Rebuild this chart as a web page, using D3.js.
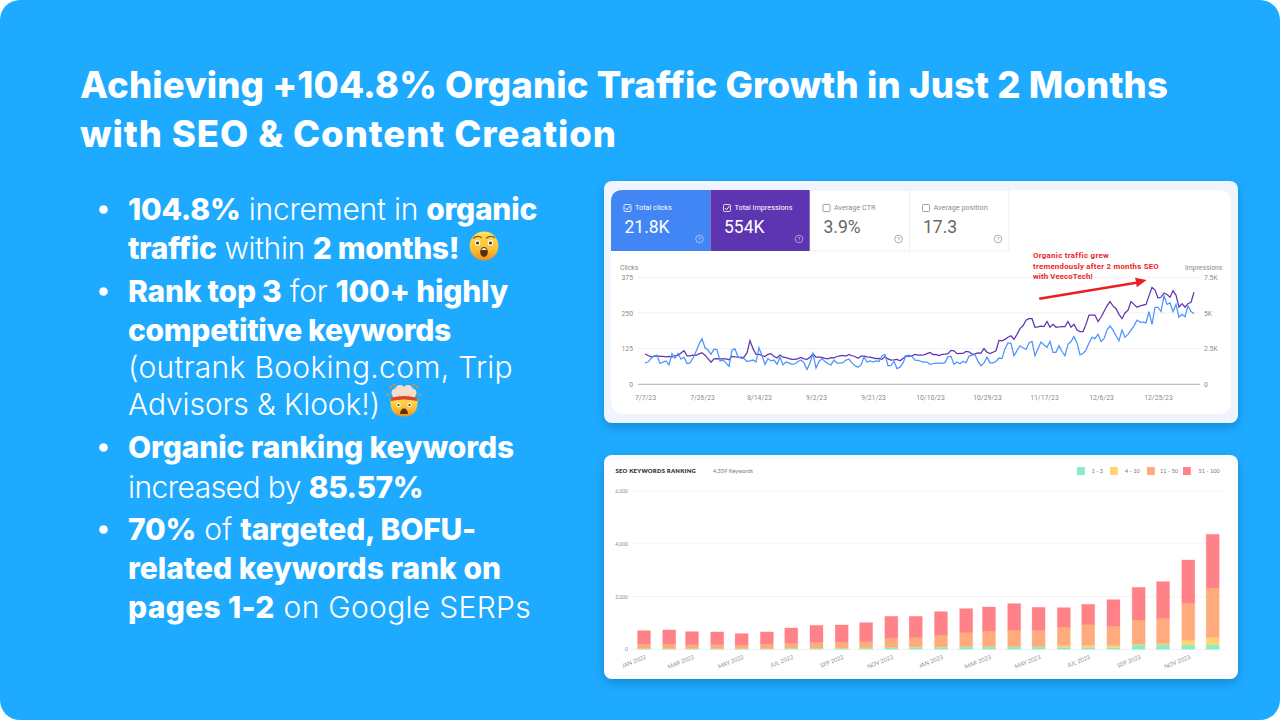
<!DOCTYPE html>
<html>
<head>
<meta charset="utf-8">
<script src="https://cdn.jsdelivr.net/npm/d3@7"></script>
<style>
html, body { margin: 0; padding: 0; background: #fff; }
svg { display: block; }
text { font-family: Roboto, sans-serif; }
.head, .bullet { font-family: Inter, sans-serif; fill: #fff; }
.head { font-size: 36.5px; font-weight: 800; }
.bullet { font-size: 30px; font-weight: 300; white-space: pre; }
.bullet .b { font-weight: 800; }
.kw { font-family: Lato, sans-serif; }
</style>
</head>
<body>
<div class="container"></div>
<script>
const WIDTH = 1280;
const HEIGHT = 720;

const TITLE_LINES = [
    'Achieving +104.8% Organic Traffic Growth in Just 2 Months',
    'with SEO & Content Creation'
];
const TITLE_RIGHT = [1168, 617];

// [text, bold] runs per line, dot marks first line of a bullet
const BULLETS = [
    { dot: true, runs: [['104.8%', 1], [' increment in ', 0], ['organic', 1]] },
    { runs: [['traffic', 1], [' within ', 0], ['2 months!', 1]] },
    { dot: true, runs: [['Rank top 3', 1], [' for ', 0], ['100+ highly', 1]] },
    { runs: [['competitive keywords', 1]] },
    { runs: [['(outrank Booking.com, Trip', 0]] },
    { runs: [['Advisors & Klook!)', 0]] },
    { dot: true, runs: [['Organic ranking keywords', 1]] },
    { runs: [['increased by ', 0], ['85.57%', 1]] },
    { dot: true, runs: [['70%', 1], [' of ', 0], ['targeted, BOFU-', 1]] },
    { runs: [['related keywords rank on', 1]] },
    { runs: [['pages 1-2', 1], [' on Google SERPs', 0]] }
];
const BULLET_BASE = [220, 259, 302, 341, 378, 415, 458, 497.5, 540, 579, 618];
const BULLET_RIGHT = [537, 459, 508, 451, 513, 380, 514, 423, 476, 501, 531];

const START_DATE = new Date(2023, 6, 7);
const DATE_TICKS = ['7/7/23', '7/26/23', '8/14/23', '9/2/23', '9/21/23', '10/10/23', '10/29/23', '11/17/23', '12/6/23', '12/25/23'];

const CLICKS = [
    75, 78, 90, 100, 102, 73, 78, 82, 68, 108, 92, 108, 88, 95, 73, 75, 92, 115, 140, 160,
    128, 120, 105, 123, 122, 82, 85, 75, 63, 120, 124, 97, 92, 90, 80, 82, 85, 78, 128, 100,
    70, 90, 82, 85, 70, 95, 68, 78, 75, 70, 72, 80, 85, 75, 52, 75, 108, 57, 80, 90,
    80, 72, 68, 85, 74, 74, 76, 85, 88, 75, 65, 60, 68, 95, 78, 82, 78, 82, 80, 100,
    104, 65, 66, 80, 55, 60, 75, 100, 102, 98, 85, 84, 80, 78, 78, 70, 72, 74, 74, 73,
    76, 97, 98, 70, 78, 72, 80, 76, 98, 102, 104, 80, 65, 75, 95, 75, 75, 80, 92, 90,
    125, 145, 144, 100, 118, 135, 128, 122, 145, 150, 100, 125, 148, 138, 130, 150, 112, 112, 135, 115,
    100, 140, 150, 167, 145, 103, 108, 120, 145, 165, 160, 175, 150, 160, 190, 205, 190, 170, 153, 190,
    165, 175, 190, 205, 225, 218, 218, 215, 255, 210, 270, 270, 255, 310, 280, 285, 255, 280, 235, 245,
    237, 275, 255, 248
];

const IMPRESSIONS = [
    2120, 2020, 1930, 1950, 2000, 1960, 1950, 1930, 1950, 1900, 2000, 2030, 2200, 2350, 2000, 2000, 2040, 2020, 2130, 2220,
    2040, 1800, 1550, 1780, 1800, 1780, 1790, 1780, 1720, 1950, 1920, 1900, 1890, 1910, 2200, 3060, 2500, 2100, 2100, 2020,
    1950, 2100, 2150, 1950, 1850, 2050, 1900, 1870, 1800, 1750, 1750, 1800, 1880, 1780, 1750, 1900, 2130, 1900, 1900, 1880,
    1820, 1780, 1870, 1860, 1950, 2000, 2020, 1980, 2100, 2000, 1950, 1820, 1980, 1980, 1930, 1900, 1850, 1800, 1820, 1750,
    1950, 1780, 1700, 1720, 1750, 1650, 1800, 2000, 1950, 2000, 2100, 2050, 2040, 2070, 2150, 2230, 2080, 2100, 2020, 2100,
    2120, 2150, 2380, 2350, 2150, 2170, 2160, 2300, 2280, 2120, 2130, 2200, 2190, 2500, 2250, 2150, 2250, 2350, 3080, 3050,
    3150, 3300, 3400, 3150, 3500, 3900, 4100, 4500, 4600, 4600, 4000, 4020, 4080, 4050, 4400, 4000, 4200, 4000, 4020, 4050,
    4050, 4400, 4000, 4200, 3800, 3700, 3700, 4200, 4850, 4850, 4850, 4400, 4700, 5100, 5500, 5800, 5500, 5300, 4900, 4600,
    5000, 5200, 5800, 5600, 5400, 5500, 5550, 5600, 6200, 6800, 6600, 6050, 6100, 6400, 6300, 6100, 6550, 6250, 5400, 5650,
    5400, 5650, 5750, 6450
];

const CLICK_TICKS = [0, 125, 250, 375];
const IMPRESSION_TICKS = [0, 2500, 5000, 7500];
const IMPRESSION_LABELS = ['0', '2.5K', '5K', '7.5K'];

const METRIC_LABELS = ['Total clicks', 'Total impressions', 'Average CTR', 'Average position'];
const METRIC_VALUES = ['21.8K', '554K', '3.9%', '17.3'];

const NOTE_LINES = ['Organic traffic grew', 'tremendously after 2 months SEO', 'with VeecoTech!'];
const NOTE_WIDTHS = [75.7, 126, 59.7];

const MONTHS = d3.range(24).map(i => new Date(2022, i, 1));
const MONTH_LABELS = ['JAN 2022', 'MAR 2022', 'MAY 2022', 'JUL 2022', 'SEP 2022', 'NOV 2022', 'JAN 2023', 'MAR 2023', 'MAY 2023', 'JUL 2023', 'SEP 2023', 'NOV 2023'];
const BANDS = ['1 - 3', '4 - 10', '11 - 50', '51 - 100'];
const BAND_1_3 = [25, 25, 25, 25, 25, 25, 40, 40, 40, 45, 60, 75, 75, 88, 88, 88, 88, 75, 63, 63, 177, 177, 164, 177];
const BAND_4_10 = [8, 8, 8, 8, 8, 8, 10, 10, 12, 12, 15, 15, 15, 15, 15, 15, 15, 64, 87, 76, 23, 38, 177, 265];
const BAND_11_50 = [169, 169, 144, 144, 131, 169, 190, 215, 226, 233, 355, 352, 453, 527, 592, 629, 617, 707, 784, 732, 911, 947, 1414, 1882];
const BAND_51_100 = [505, 531, 493, 480, 430, 455, 568, 644, 644, 720, 820, 808, 884, 910, 909, 998, 871, 732, 771, 1010, 1238, 1402, 1630, 2035];
const BAND_COLORS = ['#8aedc6', '#ffd46f', '#ffab7d', '#ff8288'];
const KEYWORD_TICKS = [0, 2000, 4000, 6000];
const LEGEND_X = [1077, 1110, 1147, 1183];
const LEGEND_TEXT_X = [1091.5, 1125, 1160, 1198.5];

// stretch or squeeze a text line to a wanted width through its letter spacing
const fitWidth = function (node, width) {
    let chars = node.textContent.length;
    let extra = (width - node.getComputedTextLength()) / chars;
    d3.select(node).style('letter-spacing', `${extra}px`);
};

const svg = d3.select('.container').append('svg')
    .attr('width', WIDTH)
    .attr('height', HEIGHT);

const defs = svg.append('defs');
const shadow = defs.append('filter').attr('id', 'cardShadow')
    .attr('x', '-5%').attr('y', '-5%').attr('width', '110%').attr('height', '115%');
shadow.append('feDropShadow')
    .attr('dx', 0).attr('dy', 4).attr('stdDeviation', 5)
    .attr('flood-color', '#0b5d94').attr('flood-opacity', 0.4);

const faceGrad = defs.append('linearGradient').attr('id', 'faceGrad')
    .attr('x1', 0).attr('y1', 0).attr('x2', 0).attr('y2', 1);
faceGrad.append('stop').attr('offset', '0%').attr('stop-color', '#ffe25c');
faceGrad.append('stop').attr('offset', '65%').attr('stop-color', '#fcbc30');
faceGrad.append('stop').attr('offset', '100%').attr('stop-color', '#ee8f1c');

svg.append('rect').attr('width', WIDTH).attr('height', HEIGHT).attr('rx', 20).attr('fill', '#1eaaff');

// -- headline and bullets --
svg.selectAll('.head').data(TITLE_LINES)
    .enter().append('text')
    .classed('head', true)
    .attr('x', 80)
    .attr('y', (d, i) => 98 + i * 49)
    .text(d => d)
    .each(function (d, i) { fitWidth(this, TITLE_RIGHT[i] - 80); });

const bullets = svg.selectAll('.bullet').data(BULLETS)
    .enter().append('text')
    .classed('bullet', true)
    .attr('x', 128)
    .attr('y', (d, i) => BULLET_BASE[i]);

bullets.selectAll('tspan').data(d => d.runs)
    .enter().append('tspan')
    .classed('b', d => d[1] === 1)
    .text(d => d[0]);

bullets.each(function (d, i) { fitWidth(this, BULLET_RIGHT[i] - 128); });

svg.selectAll('.dot').data(BULLETS.map((d, i) => ({ d, i })).filter(o => o.d.dot))
    .enter().append('circle')
    .attr('cx', 103.5)
    .attr('cy', o => BULLET_BASE[o.i] - 10.5)
    .attr('r', 4.3)
    .attr('fill', '#fff');

// -- emoji drawn as shapes, no colour emoji font here --
const astonished = svg.append('g').attr('transform', 'translate(484, 246)');
astonished.append('circle').attr('r', 14.4).attr('fill', 'url(#faceGrad)');
[-6.5, 6.5].forEach(dx => {
    astonished.append('ellipse').attr('cx', dx).attr('cy', -3).attr('rx', 2.7).attr('ry', 3).attr('fill', '#fff7e0');
    astonished.append('circle').attr('cx', dx).attr('cy', -3).attr('r', 1.5).attr('fill', '#4f3010');
    astonished.append('path').attr('d', `M${dx - 4.5},-7.5 Q${dx},-11.5 ${dx + 4.5},-8`)
        .attr('fill', 'none').attr('stroke', '#8a5514').attr('stroke-width', 1.2);
});
astonished.append('ellipse').attr('cy', 6).attr('rx', 3.8).attr('ry', 5).attr('fill', '#5b3012');
astonished.append('path').attr('d', 'M-2.8,3.4 Q0,0.4 2.8,3.4 Q0,4.6 -2.8,3.4 Z').attr('fill', '#fff');

const mindBlown = svg.append('g').attr('transform', 'translate(404, 403)');
[[-8, -10, 4.5], [8, -10, 4.5], [-4, -13, 5], [4, -13, 5], [0, -9, 5]].forEach(c => {
    mindBlown.append('circle').attr('cx', c[0]).attr('cy', c[1]).attr('r', c[2]).attr('fill', '#f5dfcb');
});
[[-13, -16], [13, -16], [-16, -8], [16, -8], [-10, -18], [10, -18]].forEach(c => {
    mindBlown.append('circle').attr('cx', c[0]).attr('cy', c[1]).attr('r', 1.2).attr('fill', '#f08a24');
});
mindBlown.append('path').attr('d', 'M-13.5,-5 Q-15,13.5 0,13.5 Q15,13.5 13.5,-5 Q0,-8 -13.5,-5 Z')
    .attr('fill', 'url(#faceGrad)');
mindBlown.append('path').attr('d', 'M-13.5,-5 Q0,-9 13.5,-5 L13,-2 Q0,-5 -13,-2 Z').attr('fill', '#d6472c');
[-5.5, 5.5].forEach(dx => {
    mindBlown.append('circle').attr('cx', dx).attr('cy', 2).attr('r', 2.2).attr('fill', '#fff7e0');
    mindBlown.append('circle').attr('cx', dx).attr('cy', 2).attr('r', 1.1).attr('fill', '#4a2a10');
});
mindBlown.append('path').attr('d', 'M-4,11 Q-3.5,5.5 0,5.5 Q3.5,5.5 4,11 Z').attr('fill', '#5b3012');

// -- search console card --
svg.append('rect')
    .attr('x', 604).attr('y', 181).attr('width', 634).attr('height', 242).attr('rx', 8)
    .attr('fill', '#f0f4fd')
    .attr('filter', 'url(#cardShadow)');
svg.append('rect')
    .attr('x', 611).attr('y', 190).attr('width', 620).attr('height', 224).attr('rx', 12)
    .attr('fill', '#fff');

const TILE_X = d3.scaleLinear().domain([0, 4]).range([611, 1009]);
const TILE_FILLS = ['#4285f4', '#5e35b1', '#fff', '#fff'];
const tiles = svg.selectAll('.tile').data(METRIC_LABELS)
    .enter().append('g')
    .classed('tile', true)
    .attr('transform', (d, i) => `translate(${TILE_X(i)}, 190)`);
tiles.append('path')
    .attr('d', (d, i) => i === 0
        ? 'M0,61 V12 Q0,0 12,0 H99.5 V61 Z'
        : 'M0,0 H99.5 V61 H0 Z')
    .attr('fill', (d, i) => TILE_FILLS[i])
    .attr('stroke', (d, i) => i > 1 ? '#e8eaed' : 'none')
    .attr('stroke-width', 0.7);
tiles.append('rect')
    .attr('x', 13).attr('y', 14.5).attr('width', 7).attr('height', 7).attr('rx', 1)
    .attr('fill', 'none')
    .attr('stroke', (d, i) => i < 2 ? '#fff' : '#8a8a8a')
    .attr('stroke-width', 0.8);
tiles.filter((d, i) => i < 2).append('path')
    .attr('d', 'M14.5,18 L16,19.8 L19.2,15.8')
    .attr('fill', 'none').attr('stroke', '#fff').attr('stroke-width', 0.9);
tiles.append('text')
    .attr('x', 24).attr('y', 20)
    .attr('font-size', 7.3)
    .attr('fill', (d, i) => i < 2 ? '#fff' : '#8c8c8c')
    .text(d => d);
tiles.append('text')
    .attr('x', 13.5).attr('y', 43)
    .attr('font-size', 17.5)
    .attr('fill', (d, i) => i < 2 ? '#fff' : '#666')
    .text((d, i) => METRIC_VALUES[i]);
const helpIcon = tiles.append('g')
    .attr('transform', 'translate(88.5, 49)')
    .attr('opacity', (d, i) => i < 2 ? 0.7 : 1);
helpIcon.append('circle').attr('r', 3.8).attr('fill', 'none')
    .attr('stroke', (d, i) => i < 2 ? '#fff' : '#8a8a8a').attr('stroke-width', 0.7);
helpIcon.append('text').attr('text-anchor', 'middle').attr('y', 2).attr('font-size', 5.5)
    .attr('fill', (d, i) => i < 2 ? '#fff' : '#8a8a8a').text('?');

const xDay = d3.scaleTime()
    .domain([START_DATE, d3.timeDay.offset(START_DATE, CLICKS.length - 1)])
    .range([645, 1194]);
const yClicks = d3.scaleLinear().domain([0, 375]).range([384.3, 277.3]);
const yImpr = d3.scaleLinear().domain([0, 7500]).range([384.3, 277.3]);

svg.append('g').selectAll('line').data(CLICK_TICKS)
    .enter().append('line')
    .attr('x1', 638).attr('x2', 1200)
    .attr('y1', d => yClicks(d)).attr('y2', d => yClicks(d))
    .attr('stroke', d => d === 0 ? '#9a9a9a' : '#eef0f2')
    .attr('stroke-width', d => d === 0 ? 0.8 : 1);

const axisStyle = sel => sel.selectAll('text').attr('font-size', 6.8).attr('fill', '#8a8a8a').attr('font-family', 'Roboto, sans-serif');

const leftAxis = d3.axisLeft(yClicks).tickValues(CLICK_TICKS).tickSize(0).tickPadding(3);
svg.append('g').attr('transform', 'translate(636, 0)').call(leftAxis)
    .call(g => g.select('.domain').remove())
    .call(axisStyle);

const rightAxis = d3.axisRight(yImpr).tickValues(IMPRESSION_TICKS)
    .tickFormat((d, i) => IMPRESSION_LABELS[i]).tickSize(0).tickPadding(3);
svg.append('g').attr('transform', 'translate(1201, 0)').call(rightAxis)
    .call(g => g.select('.domain').remove())
    .call(axisStyle);

const bottomAxis = d3.axisBottom(xDay)
    .tickValues(DATE_TICKS.map((d, i) => d3.timeDay.offset(START_DATE, i * 19)))
    .tickFormat((d, i) => DATE_TICKS[i]).tickSize(0).tickPadding(5);
svg.append('g').attr('transform', 'translate(0, 390)').call(bottomAxis)
    .call(g => g.select('.domain').remove())
    .call(axisStyle);

svg.append('text').attr('x', 620).attr('y', 270).attr('font-size', 6.8).attr('fill', '#8a8a8a').text('Clicks');
svg.append('text').attr('x', 1185).attr('y', 270).attr('font-size', 6.8).attr('fill', '#8a8a8a').text('Impressions');

const clickLine = d3.line().x((d, i) => xDay(d3.timeDay.offset(START_DATE, i))).y(d => yClicks(d));
const imprLine = d3.line().x((d, i) => xDay(d3.timeDay.offset(START_DATE, i))).y(d => yImpr(d));

svg.append('path').attr('d', imprLine(IMPRESSIONS))
    .attr('fill', 'none').attr('stroke', '#5e35b1').attr('stroke-width', 1.25);
svg.append('path').attr('d', clickLine(CLICKS))
    .attr('fill', 'none').attr('stroke', '#4c94fb').attr('stroke-width', 1.25);

// annotation
svg.selectAll('.note').data(NOTE_LINES)
    .enter().append('text')
    .classed('note', true)
    .attr('x', 1033)
    .attr('y', (d, i) => 258.3 + i * 10.5)
    .attr('font-weight', 700)
    .attr('font-size', 7.8)
    .attr('fill', '#ee1c25')
    .text(d => d)
    .each(function (d, i) { fitWidth(this, NOTE_WIDTHS[i]); });
svg.append('path')
    .attr('d', 'M1039,297.5 L1136,281.5 L1135,277.7 L1146.7,280 L1136.7,287.3 L1136.3,284 L1039.5,300 Z')
    .attr('fill', '#ee1c25');

// -- keywords card --
svg.append('rect')
    .attr('x', 604).attr('y', 455).attr('width', 634).attr('height', 224).attr('rx', 8)
    .attr('fill', '#fff')
    .attr('filter', 'url(#cardShadow)');
svg.append('rect')
    .attr('x', 606).attr('y', 458.5).attr('width', 630).attr('height', 217).attr('rx', 6)
    .attr('fill', 'none').attr('stroke', '#f3f4f6').attr('stroke-width', 0.8);

const xMonth = d3.scaleTime()
    .domain([MONTHS[0], MONTHS[23]])
    .range([644, 1212.7]);
const yKeywords = d3.scaleLinear().domain([0, 6000]).range([649.3, 491]);

svg.append('g').selectAll('line').data(KEYWORD_TICKS)
    .enter().append('line')
    .attr('x1', 631).attr('x2', 1225)
    .attr('y1', d => yKeywords(d)).attr('y2', d => yKeywords(d))
    .attr('stroke', d => d === 0 ? '#e8e8e8' : '#f3f3f3')
    .attr('stroke-width', 0.8);

const kwAxis = d3.axisLeft(yKeywords).tickValues(KEYWORD_TICKS).tickSize(0).tickPadding(2).tickFormat(d3.format(','));
svg.append('g').attr('transform', 'translate(630, 0)').call(kwAxis)
    .call(g => g.select('.domain').remove())
    .call(g => g.selectAll('text').classed('kw', true).attr('font-size', 5).attr('fill', '#8a8a8a'));

const keywordRows = MONTHS.map((m, i) => ({
    month: m,
    b0: BAND_1_3[i], b1: BAND_4_10[i], b2: BAND_11_50[i], b3: BAND_51_100[i]
}));
const layers = d3.stack().keys(['b0', 'b1', 'b2', 'b3'])(keywordRows);

svg.append('g').selectAll('g').data(layers)
    .enter().append('g')
    .attr('fill', (d, i) => BAND_COLORS[i])
    .attr('stroke', (d, i) => BAND_COLORS[i])
    .attr('stroke-opacity', 0.35)
    .attr('stroke-width', 0.8)
    .selectAll('rect').data(d => d)
    .enter().append('rect')
    .attr('x', d => xMonth(d.data.month) - 6.5)
    .attr('width', 13)
    .attr('y', d => yKeywords(d[1]))
    .attr('height', d => yKeywords(d[0]) - yKeywords(d[1]));

const monthAxis = d3.axisBottom(xMonth)
    .tickValues(MONTHS.filter((m, i) => i % 2 === 0))
    .tickFormat((d, i) => MONTH_LABELS[i]).tickSize(0);
svg.append('g').attr('transform', 'translate(0, 649)').call(monthAxis)
    .call(g => g.select('.domain').remove())
    .call(g => g.selectAll('text')
        .classed('kw', true)
        .attr('font-size', 5.8)
        .attr('fill', '#8f8f8f')
        .attr('text-anchor', 'end')
        .attr('dy', 0)
        .attr('y', 0)
        .attr('transform', 'translate(2, 9.5) rotate(-22)'));

svg.append('text').classed('kw', true)
    .attr('x', 615.5).attr('y', 473)
    .attr('font-size', 5.9).attr('font-weight', 800).attr('fill', '#333')
    .text('SEO KEYWORDS RANKING')
    .each(function () { fitWidth(this, 80.5); });
svg.append('text').classed('kw', true)
    .attr('x', 713).attr('y', 473)
    .attr('font-size', 5.6).attr('fill', '#777')
    .text('4,359 Keywords');

const legend = svg.selectAll('.legend').data(BANDS)
    .enter().append('g')
    .classed('legend', true);
legend.append('rect')
    .attr('x', (d, i) => LEGEND_X[i]).attr('y', 467)
    .attr('width', 7.8).attr('height', 8)
    .attr('fill', (d, i) => BAND_COLORS[i]);
legend.append('text').classed('kw', true)
    .attr('x', (d, i) => LEGEND_TEXT_X[i]).attr('y', 473)
    .attr('font-size', 5.6).attr('fill', '#777')
    .text(d => d);
</script>
</body>
</html>
